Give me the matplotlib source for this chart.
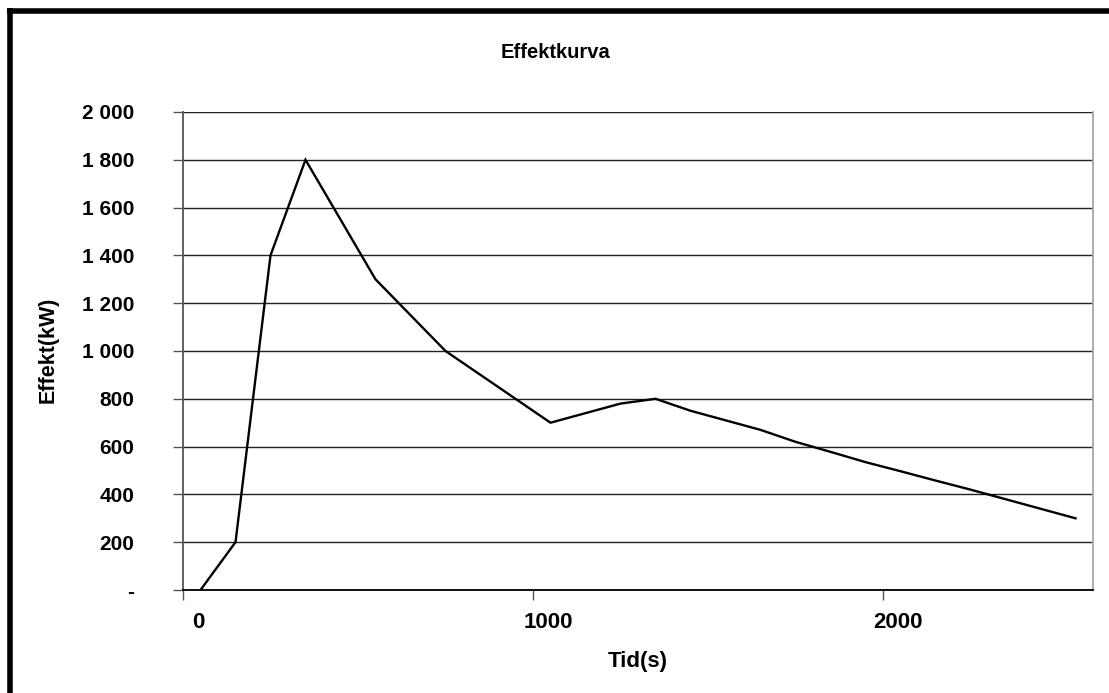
import matplotlib.pyplot as plt
from matplotlib.lines import Line2D
from matplotlib.ticker import FuncFormatter
import matplotlib.transforms as mtransforms

plt.rcParams['font.family'] = ['Liberation Sans', 'DejaVu Sans']
plt.rcParams['font.weight'] = 'bold'

# Effektkurva - heat release over time
tid = [50, 150, 250, 350, 550, 750, 1050, 1250, 1350, 1450, 1550, 1650,
       1750, 1850, 1950, 2050, 2150, 2250, 2350, 2450, 2550]
effekt = [0, 200, 1400, 1800, 1300, 1000, 700, 780, 800, 750, 710, 670,
          620, 578, 535, 497, 458, 420, 380, 340, 300]

y_ticks = [0, 200, 400, 600, 800, 1000, 1200, 1400, 1600, 1800, 2000]
x_ticks = [0, 1000, 2000]

W, H = 1109, 693
fig = plt.figure(figsize=(W / 100, H / 100), dpi=100)
ax = fig.add_axes([183 / W, 1 - 590 / H, (1093 - 183) / W, (590 - 112) / H])

ax.plot(tid, effekt, color='black', lw=1.7, solid_joinstyle='miter', zorder=3)

ax.set_xlim(0, 2600)
ax.set_ylim(0, 2000)
ax.set_xticks(x_ticks)
ax.set_yticks(y_ticks)


def fmt_kw(v, pos):
    if v == 0:
        return '-'
    return f'{int(v):,}'.replace(',', ' ')


ax.yaxis.set_major_formatter(FuncFormatter(fmt_kw))
ax.yaxis.grid(True, color='#222222', lw=1.0)
ax.set_axisbelow(True)

ax.tick_params(axis='both', direction='out', length=7, width=1,
               color='#555555')
ax.tick_params(axis='y', pad=28, labelsize=15)
ax.tick_params(axis='x', pad=9, labelsize=16)

# shift x labels slightly right, like the spreadsheet output
offset = mtransforms.ScaledTranslation(15 / 100, 0, fig.dpi_scale_trans)
for lbl in ax.get_xticklabels():
    lbl.set_transform(lbl.get_transform() + offset)

ax.spines['left'].set_color('#555555')
ax.spines['left'].set_linewidth(1.3)
ax.spines['right'].set_color('#a8a8a8')
ax.spines['right'].set_linewidth(1.3)
ax.spines['top'].set_visible(False)
ax.spines['bottom'].set_color('black')
ax.spines['bottom'].set_linewidth(1.3)

fig.text(555 / W, 1 - 52 / H, 'Effektkurva', ha='center', va='center',
         fontsize=14.5, fontweight='bold')
fig.text(638 / W, 1 - 661 / H, 'Tid(s)', ha='center', va='center',
         fontsize=16, fontweight='bold')
fig.text(48 / W, 1 - 350 / H, 'Effekt(kW)', ha='center', va='center',
         rotation=90, fontsize=15.5, fontweight='bold')

# frame on top and left edges
fig.add_artist(Line2D([7 / W, 1.0], [1 - 10.5 / H, 1 - 10.5 / H],
                      transform=fig.transFigure, color='black', lw=4,
                      solid_capstyle='butt'))
fig.add_artist(Line2D([9.5 / W, 9.5 / W], [0, 1 - 8 / H],
                      transform=fig.transFigure, color='black', lw=4,
                      solid_capstyle='butt'))

fig.savefig('out.png', dpi=100)
